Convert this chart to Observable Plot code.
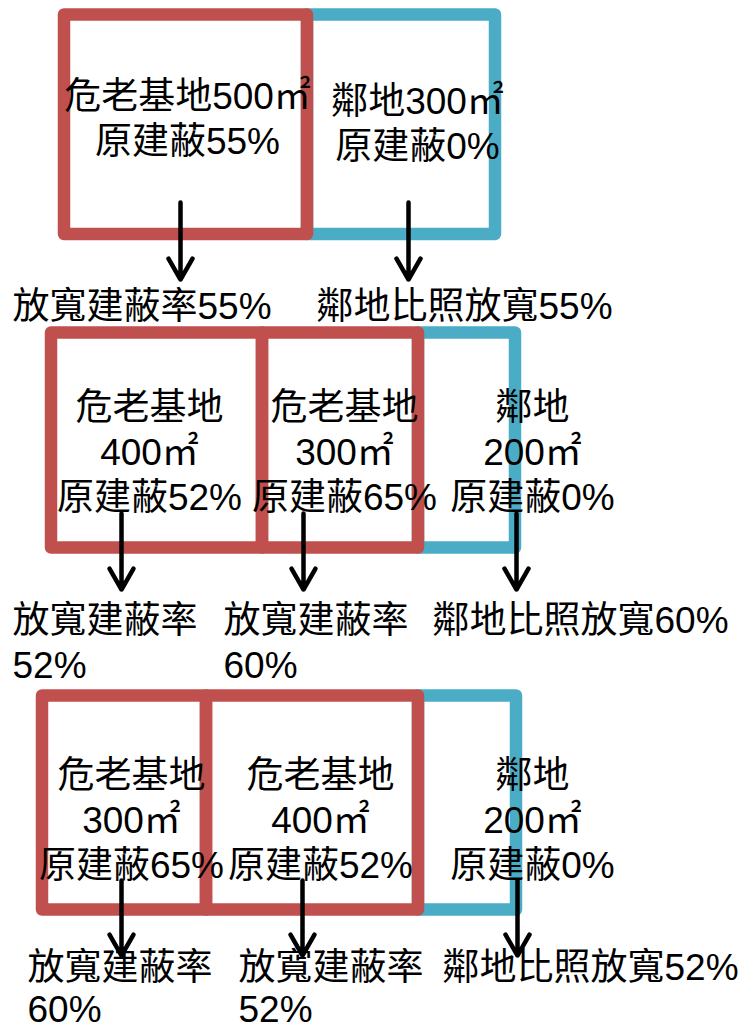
<!DOCTYPE html>
<html>
<head>
<meta charset="utf-8">
<script src="https://cdn.jsdelivr.net/npm/d3@7"></script>
<script src="https://cdn.jsdelivr.net/npm/@observablehq/plot@0.6"></script>
<style>
  html, body { margin: 0; padding: 0; background: #fff; overflow: hidden; }
  #chart svg { display: block; }
</style>
</head>
<body>
<div id="chart"></div>
<script>
// ---- data ----
const kinds = ["危老基地", "鄰地", "危老基地", "危老基地", "鄰地", "危老基地", "危老基地", "鄰地"];
const scenarios = [1, 1, 2, 2, 2, 3, 3, 3];
const areas = [500, 300, 400, 300, 200, 300, 400, 200];          // ㎡
const originalCoverage = [55, 0, 52, 65, 0, 65, 52, 0];          // 原建蔽 %
const relaxedCoverage = [55, 55, 52, 60, 60, 60, 52, 52];        // 放寬後 %

// ---- layout of the diagram (chart units) ----
const rowTop = [14.5, 332.5, 695.5];
const rowBottom = [234, 547.5, 909.5];
const rowEdges = [[64, 307, 495], [51, 262, 418, 515], [42, 206, 418, 516]];
const textX = [187, 417, 149, 344, 532, 131, 320, 532];
const textY = [117, 122, 450, 450, 450, 818, 818, 818];
const arrowX = [180, 408, 121, 303, 516, 121, 302, 517];
const arrowTop = [202, 513, 880];
const arrowTip = [279, 589, 955];
const labelX = [12, 316, 12, 223, 432, 27, 238, 442];
const labelFirstLineY = [304, 304, 618, 618, 618, 966, 966, 966];
const labelLineStep = [45, 45, 42];

const lineStep = 45;
const fontSize = 37;
const fontFamily = "'Liberation Sans', Arial, 'Noto Sans CJK TC', sans-serif";
const red = "#C0504D";
const blue = "#4BACC6";

// ---- build records ----
const counters = {};
const parcels = kinds.map((kind, i) => {
  const row = scenarios[i] - 1;
  counters[row] = (counters[row] ?? -1) + 1;
  const j = counters[row];
  const neighbour = kind === "鄰地";
  const text = row === 0
    ? `${kind}${areas[i]}㎡\n原建蔽${originalCoverage[i]}%`
    : `${kind}\n${areas[i]}㎡\n原建蔽${originalCoverage[i]}%`;
  const label = neighbour
    ? `鄰地比照放寬${relaxedCoverage[i]}%`
    : (row === 0 ? `放寬建蔽率${relaxedCoverage[i]}%` : `放寬建蔽率\n${relaxedCoverage[i]}%`);
  const nLines = label.split("\n").length;
  return {
    neighbour, row,
    x1: rowEdges[row][j], x2: rowEdges[row][j + 1],
    y1: rowTop[row], y2: rowBottom[row],
    tx: textX[i], ty: textY[i], text,
    ax: arrowX[i], ay1: arrowTop[row], ay2: arrowTip[row],
    lx: labelX[i], ly: labelFirstLineY[i] + (nLines - 1) * labelLineStep[row] / 2, label
  };
});

const labelMarks = [0, 1, 2].map(r => Plot.text(parcels.filter(d => d.row === r), {
  x: "lx", y: "ly", text: "label",
  fontSize, fontFamily, lineHeight: labelLineStep[r] / fontSize,
  textAnchor: "start", lineAnchor: "middle", fill: "black"
}));

const chart = Plot.plot({
  width: 741,
  height: 1030,
  margin: 0,
  x: {domain: [0, 741], range: [0, 741], axis: null},
  y: {domain: [0, 1030], range: [0, 1030], axis: null},
  style: {background: "white", overflow: "visible"},
  marks: [
    Plot.rect(parcels.filter(d => d.neighbour), {
      x1: "x1", x2: "x2", y1: "y1", y2: "y2",
      fill: "none", stroke: blue, strokeWidth: 12.5, strokeLinejoin: "round"
    }),
    Plot.rect(parcels.filter(d => !d.neighbour), {
      x1: "x1", x2: "x2", y1: "y1", y2: "y2",
      fill: "none", stroke: red, strokeWidth: 12.5, strokeLinejoin: "round"
    }),
    Plot.text(parcels, {
      x: "tx", y: "ty", text: "text",
      fontSize, fontFamily, lineHeight: lineStep / fontSize,
      textAnchor: "middle", lineAnchor: "middle", fill: "black"
    }),
    ...labelMarks,
    Plot.arrow(parcels, {
      x1: "ax", x2: "ax", y1: "ay1", y2: "ay2",
      stroke: "black", strokeWidth: 4.5
    })
  ]
});
document.getElementById("chart").append(chart);
</script>
</body>
</html>
